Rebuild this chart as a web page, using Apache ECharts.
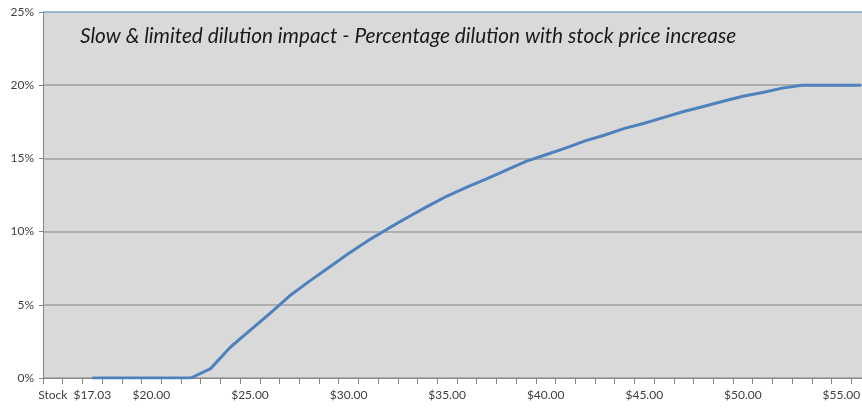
<!DOCTYPE html>
<html>
<head>
<meta charset="utf-8">
<script src="https://cdn.jsdelivr.net/npm/echarts@6/dist/echarts.min.js"></script>
<style>
  html, body { margin: 0; padding: 0; background: #ffffff; overflow: hidden; }
  #chart { width: 862px; height: 412px; }
</style>
</head>
<body>
<div id="chart"></div>
<script>
// Category labels along the price axis (blank entries are unlabelled price steps)
const categories = [
  'Stock', '', '$17.03', '', '', '$20.00', '', '', '', '',
  '$25.00', '', '', '', '', '$30.00', '', '', '', '',
  '$35.00', '', '', '', '', '$40.00', '', '', '', '',
  '$45.00', '', '', '', '', '$50.00', '', '', '', '',
  '$55.00', ''
];

// Percentage dilution at each price step
const dilution = [
  null, null, 0, 0, 0, 0, 0, 0, 0.64, 2.1,
  3.25, 4.4, 5.6, 6.6, 7.55, 8.5, 9.4, 10.2, 10.98, 11.72,
  12.43, 13.03, 13.6, 14.2, 14.8, 15.25, 15.7, 16.2, 16.6, 17.05,
  17.4, 17.8, 18.2, 18.55, 18.9, 19.25, 19.5, 19.8, 20, 20,
  20, 20
];

// Y axis ticks (percent)
const yTicks = [0, 5, 10, 15, 20, 25];

const chartTitle = 'Slow & limited dilution impact - Percentage dilution with stock price increase';

const chart = echarts.init(document.getElementById('chart'), null, { renderer: 'canvas' });

chart.setOption({
  animation: false,
  backgroundColor: '#ffffff',
  title: {
    text: chartTitle,
    left: 75,
    top: 21,
    textStyle: {
      fontFamily: 'Lato',
      fontStyle: 'italic',
      fontWeight: 'normal',
      fontSize: 20.8,
      color: '#1a1a1a'
    }
  },
  grid: {
    left: 43,
    top: 12,
    width: 828,
    bottom: 34,
    outerBoundsMode: 'none',
    containLabel: false,
    show: true,
    backgroundColor: '#d9d9d9',
    borderWidth: 0
  },
  xAxis: {
    type: 'category',
    data: categories,
    boundaryGap: true,
    axisLine: { show: true, lineStyle: { color: '#868686', width: 1 } },
    axisTick: { show: true, interval: 0, length: 6, lineStyle: { color: '#868686' } },
    axisLabel: {
      interval: 0,
      margin: 11,
      fontFamily: 'Lato',
      fontSize: 12,
      color: '#404040'
    },
    splitLine: { show: false }
  },
  yAxis: {
    type: 'value',
    min: yTicks[0],
    max: yTicks[yTicks.length - 1],
    interval: yTicks[1] - yTicks[0],
    axisLine: { show: true, lineStyle: { color: '#868686', width: 1 } },
    axisTick: { show: true, length: 4, lineStyle: { color: '#868686' } },
    axisLabel: {
      margin: 9,
      fontFamily: 'Lato',
      fontSize: 12,
      color: '#404040',
      formatter: '{value}%'
    },
    splitLine: {
      show: true,
      lineStyle: {
        color: ['#9f9f9f', '#9f9f9f', '#9f9f9f', '#9f9f9f', '#9f9f9f', '#7aa6ca'],
        width: 1.5
      }
    }
  },
  series: [{
    type: 'line',
    data: dilution,
    symbol: 'none',
    smooth: false,
    connectNulls: false,
    lineStyle: { color: '#4f81bd', width: 3 }
  }]
});
</script>
</body>
</html>
